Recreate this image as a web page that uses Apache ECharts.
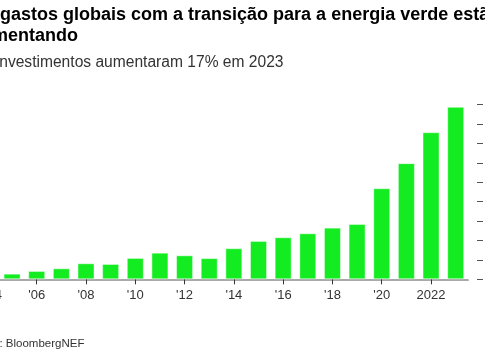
<!DOCTYPE html>
<html>
<head>
<meta charset="utf-8">
<script src="https://cdn.jsdelivr.net/npm/echarts@6/dist/echarts.min.js"></script>
<style>
html,body{margin:0;padding:0;background:#fff;overflow:hidden;width:485px;height:360px;position:relative;}
#chart{position:absolute;left:-30px;top:0;width:515px;height:360px;}
</style>
</head>
<body>
<div id="chart"></div>
<script>
const years = ['2004','2005','2006','2007','2008','2009','2010','2011','2012','2013','2014','2015','2016','2017','2018','2019','2020','2021','2022','2023'];
const investment = [33, 58, 86, 113, 165, 158, 220, 274, 247, 218, 320, 395, 433, 474, 532, 570, 938, 1196, 1515, 1776];
const tickLabels = ['2004', "'06", "'08", "'10", "'12", "'14", "'16", "'18", "'20", '2022'];
const titleText = 'Os gastos globais com a transição para a energia verde estão\naumentando';
const subtitleText = 'Os investimentos aumentaram 17% em 2023';
const sourceText = 'Fonte: BloombergNEF';

const FONT = '"Liberation Sans", Arial, Helvetica, sans-serif';
const chart = echarts.init(document.getElementById('chart'), null, {renderer: 'canvas'});
chart.setOption({
  animation: false,
  backgroundColor: '#ffffff',
  graphic: [
    {type: 'text', x: 1, y: 5, style: {text: titleText, fontSize: 18, fontWeight: 'bold', fontFamily: FONT, fill: '#000000', lineHeight: 21, verticalAlign: 'top'}},
    {type: 'text', x: 1.5, y: 54.5, style: {text: subtitleText, fontSize: 15.6, fontFamily: FONT, fill: '#333333', verticalAlign: 'top'}},
    {type: 'text', x: 0, y: 338, style: {text: sourceText, fontSize: 11.5, fontFamily: FONT, fill: '#333333', verticalAlign: 'top'}}
  ],
  grid: {left: 3.4, right: 17, top: 104.5, bottom: 80.7, containLabel: false},
  xAxis: {
    type: 'category',
    data: years,
    boundaryGap: true,
    axisLine: {show: true, lineStyle: {color: '#8c8c8c', width: 1.7}},
    axisTick: {show: true, alignWithLabel: true, interval: 1, length: 5, lineStyle: {color: '#333333', width: 1}},
    axisLabel: {
      interval: 1, margin: 10, fontSize: 13, fontFamily: FONT, color: '#333333',
      formatter: function (v, i) { return tickLabels[i / 2]; }
    },
    splitLine: {show: false}
  },
  yAxis: {
    type: 'value',
    position: 'right',
    min: 0, max: 1800, interval: 200,
    offset: 9,
    axisLine: {show: false},
    axisTick: {show: true, length: 6, lineStyle: {color: '#555555', width: 1}},
    axisLabel: {show: false},
    splitLine: {show: false}
  },
  series: [{
    type: 'bar',
    data: investment,
    barCategoryGap: '31%',
    itemStyle: {color: '#13ec20', borderColor: 'rgba(255,255,255,0.45)', borderWidth: 1},
    emphasis: {disabled: true}
  }]
});
</script>
</body>
</html>
